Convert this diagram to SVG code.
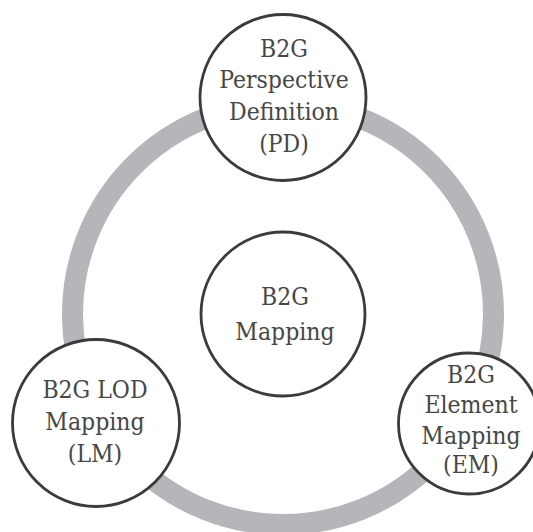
<svg xmlns="http://www.w3.org/2000/svg" width="533" height="532" viewBox="0 0 533 532">
  <style>
    .node { fill: #ffffff; stroke: #3b3b3b; stroke-width: 2.8; }
    .ring { fill: none; stroke: #b5b6b9; stroke-width: 21; }
    .label { font-family: "DejaVu Serif Condensed", "DejaVu Serif", "Liberation Serif", serif; font-stretch: condensed; font-size: 24.5px; fill: #474747; text-anchor: middle; }
  </style>
  <rect width="533" height="532" fill="#ffffff"/>
  <g id="connectors">
    <circle class="ring" cx="283" cy="314" r="210.5"/>
  </g>
  <g id="node-pd">
    <circle class="node" cx="283" cy="97.5" r="83"/>
    <text class="label" x="284" y="56.5">B2G</text>
    <text class="label" x="284" y="88.3">Perspective</text>
    <text class="label" x="284" y="120">Definition</text>
    <text class="label" x="284" y="151.5">(PD)</text>
  </g>
  <g id="node-mapping">
    <circle class="node" cx="283" cy="314" r="82"/>
    <text class="label" x="285" y="305">B2G</text>
    <text class="label" x="285" y="340">Mapping</text>
  </g>
  <g id="node-lm">
    <circle class="node" cx="96" cy="423" r="83.5"/>
    <text class="label" x="95" y="398.3">B2G LOD</text>
    <text class="label" x="95" y="430">Mapping</text>
    <text class="label" x="95" y="461.7">(LM)</text>
  </g>
  <g id="node-em">
    <circle class="node" cx="469" cy="423.5" r="70.5"/>
    <text class="label" x="471" y="382.5">B2G</text>
    <text class="label" x="471" y="413">Element</text>
    <text class="label" x="471" y="443.5">Mapping</text>
    <text class="label" x="471" y="473">(EM)</text>
  </g>
</svg>
